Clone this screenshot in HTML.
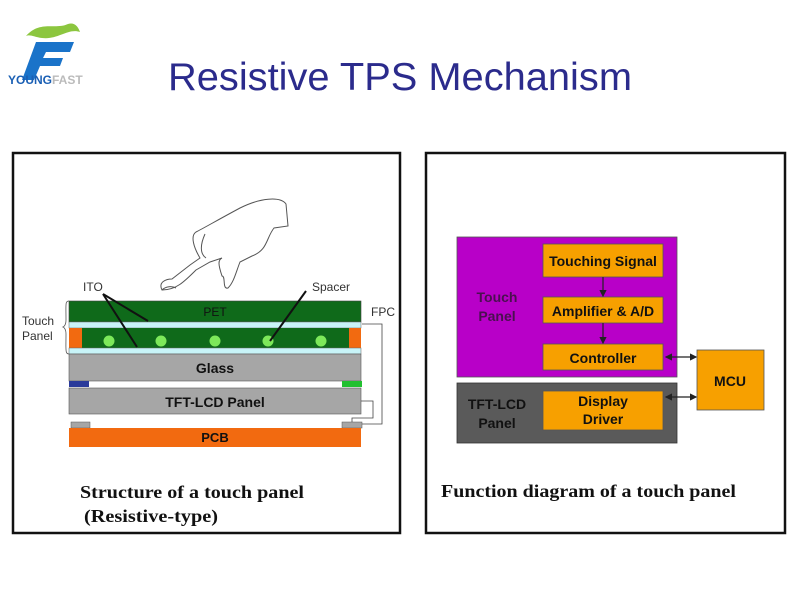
<!DOCTYPE html>
<html><head><meta charset="utf-8"><style>
body{margin:0;width:800px;height:600px;background:#fff;overflow:hidden;position:relative;font-family:"Liberation Sans",sans-serif}
</style></head><body>
<svg width="800" height="600" viewBox="0 0 800 600" style="position:absolute;left:0;top:0">
<defs><marker id="ah" markerWidth="6" markerHeight="6" refX="5" refY="3" orient="auto"><path d="M0,0L6,3L0,6z" fill="#222"/></marker>
<marker id="as" markerWidth="6" markerHeight="6" refX="1" refY="3" orient="auto"><path d="M6,0L0,3L6,6z" fill="#222"/></marker></defs>
<!-- logo -->
<path d="M26,36 C40,20 55,30 68,24 C74,22 78,26 80,32 C68,28 58,40 42,38 C34,37 30,34 26,36z" fill="#8cc63f"/>
<path d="M36,42 L74,42 L70,52 L46,52 L43,58 L63,58 L60,66 L40,66 L34,80 L22,80z" fill="#1a73c9"/>
<text x="8" y="84" font-size="12" font-weight="bold" fill="#1a5fb4">YOUNG<tspan fill="#bbb">FAST</tspan></text>
<text x="168" y="90" font-size="39" fill="#2b2b8c" textLength="464" lengthAdjust="spacingAndGlyphs">Resistive TPS Mechanism</text>
<rect x="13" y="153" width="387" height="380" fill="none" stroke="#111" stroke-width="2.5"/>
<rect x="426" y="153" width="359" height="380" fill="none" stroke="#111" stroke-width="2.5"/>
<!-- hand -->
<path d="M162,290 C158,282 166,279 172,279 L190,265 L200,258 C194,248 190,236 196,232 C204,228 214,222 240,208 C260,198 280,196 286,204 L288,226 L274,228 C266,238 268,250 252,256 L240,262 C236,272 234,282 228,288 C222,290 226,276 222,276 C218,264 218,260 222,258 L210,262 L196,270 C184,282 176,290 162,290z" fill="#fff" stroke="#555" stroke-width="1"/>
<path d="M205,234 C200,245 200,254 206,258" fill="none" stroke="#555"/>
<path d="M162,290 C166,286 172,286 176,288" fill="none" stroke="#555"/>
<!-- layers -->
<rect x="69" y="301" width="292" height="21" fill="#0f6a1a" stroke="#444" stroke-width="0.6"/>
<text x="215" y="316" font-size="12" text-anchor="middle" fill="#111">PET</text>
<rect x="69" y="322" width="292" height="6" fill="#c8f4f8" stroke="#666" stroke-width="0.5"/>
<rect x="69" y="328" width="292" height="20" fill="#0f6a1a"/>
<rect x="69" y="328" width="13" height="20" fill="#f26a10"/><rect x="349" y="328" width="12" height="20" fill="#f26a10"/>
<g fill="#7de85a"><circle cx="109" cy="341" r="5.5"/><circle cx="161" cy="341" r="5.5"/><circle cx="215" cy="341" r="5.5"/><circle cx="268" cy="341" r="5.5"/><circle cx="321" cy="341" r="5.5"/></g>
<rect x="69" y="348" width="292" height="6" fill="#c8f4f8" stroke="#666" stroke-width="0.5"/>
<rect x="69" y="354" width="292" height="27" fill="#a6a6a6" stroke="#555" stroke-width="0.6"/>
<text x="215" y="373" font-size="14" font-weight="bold" text-anchor="middle" fill="#111">Glass</text>
<rect x="69" y="381" width="20" height="6" fill="#2a3a9a"/><rect x="342" y="381" width="20" height="6" fill="#22c030"/>
<rect x="69" y="388" width="292" height="26" fill="#a6a6a6" stroke="#555" stroke-width="0.6"/>
<text x="215" y="407" font-size="14" font-weight="bold" text-anchor="middle" fill="#111">TFT-LCD Panel</text>
<rect x="71" y="422" width="19" height="6" fill="#a6a6a6" stroke="#555" stroke-width="0.5"/><rect x="342" y="422" width="20" height="6" fill="#a6a6a6" stroke="#555" stroke-width="0.5"/>
<rect x="69" y="428" width="292" height="19" fill="#f26a10"/>
<text x="215" y="442" font-size="13" font-weight="bold" text-anchor="middle" fill="#111">PCB</text>
<path d="M362,324 H382 V424 H362" fill="none" stroke="#444" stroke-width="0.8"/>
<path d="M361,401 H373 V418 H352 V422" fill="none" stroke="#444" stroke-width="0.8"/>
<g stroke="#111" stroke-width="2"><line x1="103" y1="294" x2="148" y2="321"/><line x1="103" y1="294" x2="137" y2="347"/><line x1="306" y1="291" x2="270" y2="341"/></g>
<path d="M69,301 C65,301 66,304 66,320 C66,326 63,327 63,327 C63,327 66,328 66,334 C66,350 65,354 69,354" fill="none" stroke="#555" stroke-width="0.8"/>
<g font-size="12" fill="#333"><text x="83" y="291">ITO</text><text x="312" y="291">Spacer</text><text x="22" y="325">Touch</text><text x="22" y="340">Panel</text><text x="371" y="316">FPC</text></g>
<g font-family="Liberation Serif,serif" font-weight="bold" font-size="18" fill="#111"><text x="80" y="498" textLength="224" lengthAdjust="spacingAndGlyphs">Structure of a touch panel</text><text x="84" y="522" textLength="134" lengthAdjust="spacingAndGlyphs">(Resistive-type)</text><text x="441" y="497" textLength="295" lengthAdjust="spacingAndGlyphs">Function diagram of a touch panel</text></g>
<!-- right diagram -->
<rect x="457" y="237" width="220" height="140" fill="#b800c8" stroke="#555" stroke-width="0.8"/>
<rect x="457" y="383" width="220" height="60" fill="#5a5a5a" stroke="#333" stroke-width="0.8"/>
<g fill="#f7a000" stroke="#555" stroke-width="0.8"><rect x="543" y="244" width="120" height="33"/><rect x="543" y="297" width="120" height="26"/><rect x="543" y="344" width="120" height="26"/><rect x="543" y="391" width="120" height="39"/><rect x="697" y="350" width="67" height="60"/></g>
<g font-size="14" font-weight="bold" fill="#111" text-anchor="middle">
<text x="603" y="266">Touching Signal</text><text x="603" y="316">Amplifier &amp; A/D</text><text x="603" y="363">Controller</text><text x="603" y="406">Display</text><text x="603" y="424">Driver</text><text x="730" y="386">MCU</text>
<text x="497" y="302" fill="#4a1050">Touch</text><text x="497" y="321" fill="#4a1050">Panel</text>
<text x="497" y="409">TFT-LCD</text><text x="497" y="428">Panel</text></g>
<g stroke="#222" stroke-width="1.2"><line x1="603" y1="277" x2="603" y2="296" marker-end="url(#ah)"/><line x1="603" y1="323" x2="603" y2="343" marker-end="url(#ah)"/>
<line x1="666" y1="357" x2="696" y2="357" marker-end="url(#ah)" marker-start="url(#as)"/><line x1="666" y1="397" x2="696" y2="397" marker-end="url(#ah)" marker-start="url(#as)"/></g>
</svg>
</body></html>
